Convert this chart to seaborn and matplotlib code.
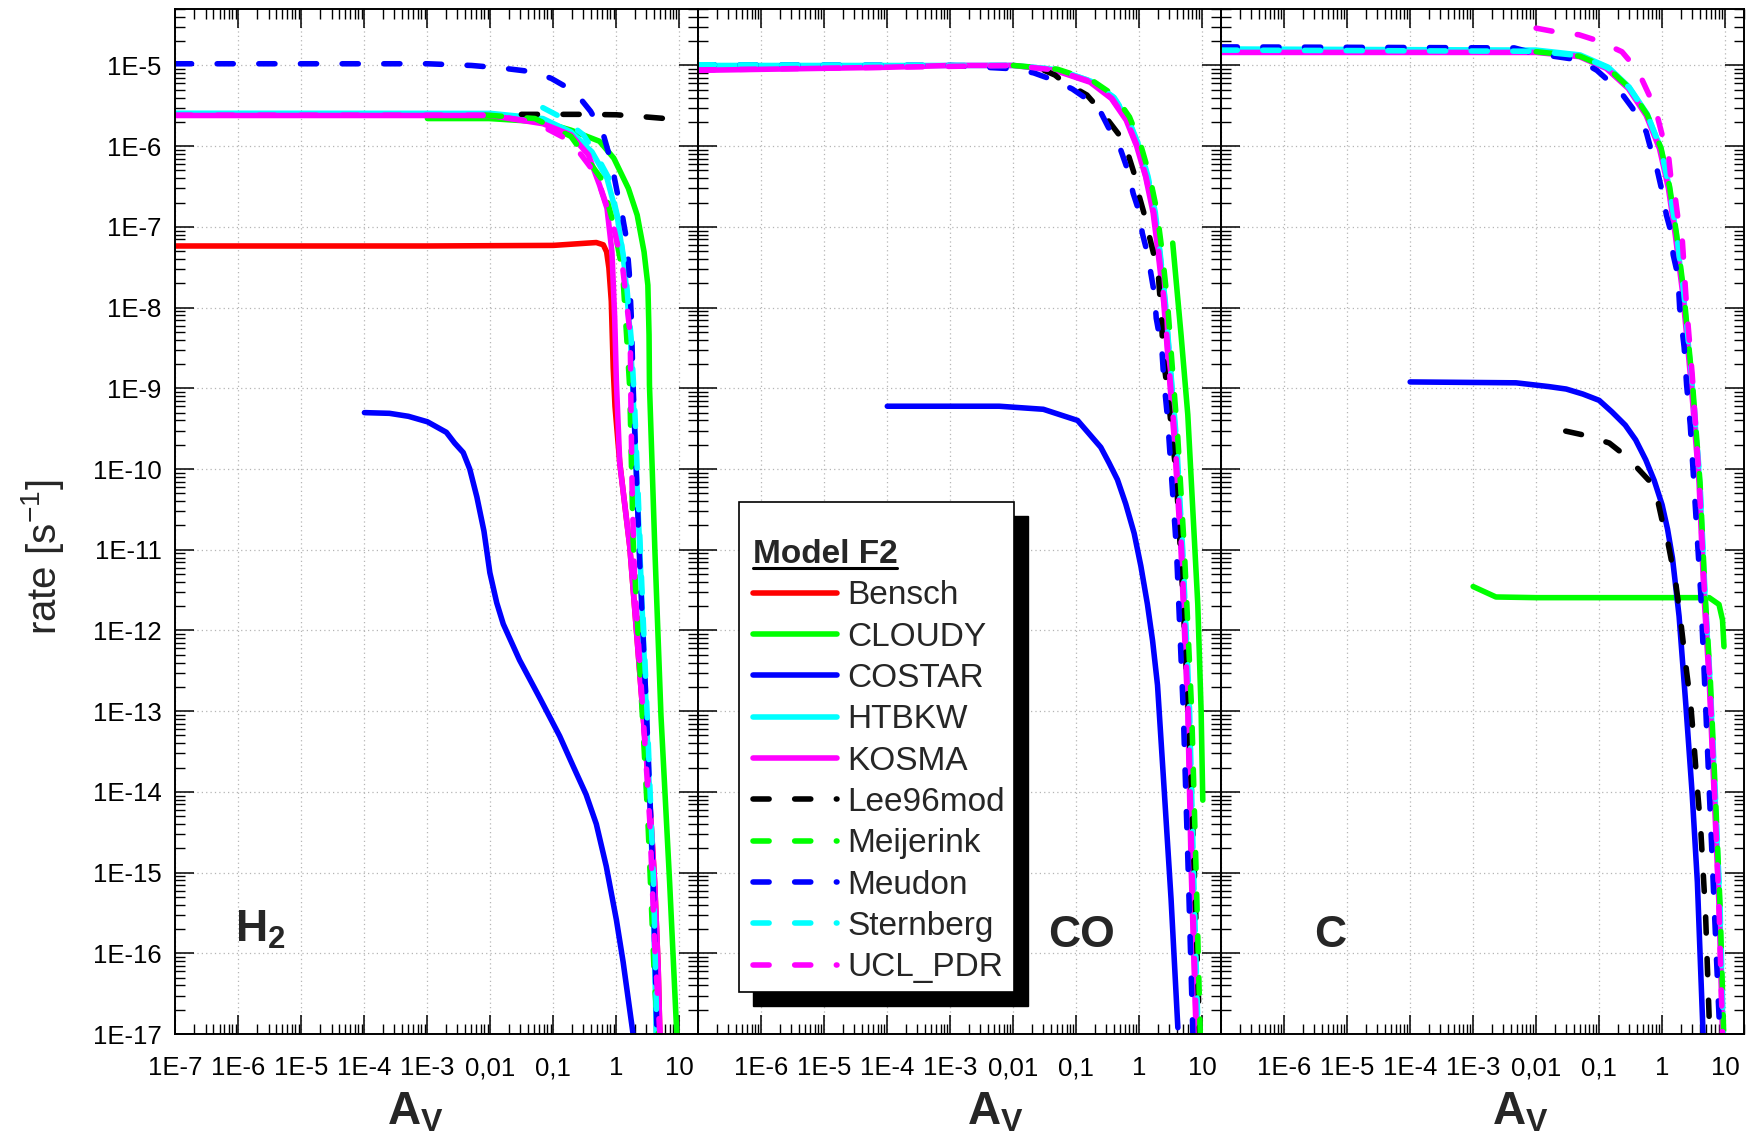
import matplotlib
matplotlib.use("Agg")
import numpy as np
import pandas as pd
import seaborn as sns
import matplotlib.pyplot as plt
from matplotlib.lines import Line2D
from matplotlib.patches import Rectangle

# ---- data: (A_V, rate [s^-1]) ----
# H2 panel
h2_bensch = [(1e-7, 5.8e-8), (1e-3, 5.8e-8), (0.1, 5.9e-8), (0.35, 6.3e-8), (0.48, 6.4e-8),
             (0.62, 6.0e-8), (0.7, 4.9e-8), (0.76, 3.1e-8), (0.83, 1.2e-8), (0.89, 1.8e-9),
             (0.95, 6e-10), (1.13, 1.2e-10), (1.63, 1.1e-11), (2.08, 1e-12), (2.65, 9e-14),
             (3.38, 8e-15), (4.05, 7.6e-16), (4.6, 6.9e-17), (4.9, 1e-17)]
h2_cloudy = [(1e-3, 2.2e-6), (0.0095, 2.2e-6), (0.068, 2.0e-6), (0.19, 1.58e-6), (0.54, 1.15e-6),
             (0.91, 7.1e-7), (1.55, 3.0e-7), (2.14, 1.4e-7), (2.75, 4.9e-8), (3.16, 1.9e-8),
             (3.3, 4.6e-9), (3.35, 1.1e-9), (4.07, 1.07e-11), (5.1, 8.9e-14), (7.0, 7.6e-16),
             (9.1, 1e-17)]
h2_costar = [(1e-4, 5.0e-10), (2.5e-4, 4.9e-10), (5e-4, 4.5e-10), (1e-3, 3.85e-10),
             (2e-3, 2.85e-10), (2.7e-3, 2.1e-10), (3.7e-3, 1.6e-10), (4.7e-3, 1e-10),
             (6.1e-3, 4.5e-11), (7.9e-3, 1.7e-11), (9.8e-3, 5.2e-12), (0.0126, 2.2e-12),
             (0.016, 1.2e-12), (0.029, 4.3e-13), (0.061, 1.45e-13), (0.126, 4.9e-14),
             (0.205, 2.1e-14), (0.33, 9.3e-15), (0.48, 4e-15), (0.69, 1.2e-15), (1.0, 2.6e-16),
             (1.28, 7.8e-17), (1.84, 1e-17)]
h2_htbkw = [(1e-7, 2.56e-6), (0.01, 2.55e-6), (0.068, 2.2e-6), (0.19, 1.5e-6), (0.41, 8.5e-7),
            (0.71, 4e-7), (1.04, 1.3e-7), (1.35, 3.1e-8), (1.66, 4.6e-9), (1.86, 6.9e-10),
            (2.34, 1.1e-11), (3.0, 8.9e-14), (3.8, 7.6e-16), (4.3, 1e-17)]
h2_kosma = [(1e-7, 2.4e-6), (0.01, 2.4e-6), (0.068, 1.9e-6), (0.19, 1.38e-6), (0.36, 7.8e-7),
            (0.54, 3.3e-7), (0.71, 1.7e-7), (0.85, 4.9e-8), (0.94, 7.4e-9), (1.0, 1.2e-9),
            (1.13, 1.2e-10), (1.63, 1.1e-11), (2.08, 1e-12), (2.65, 9e-14), (3.38, 8e-15),
            (4.05, 7.6e-16), (4.6, 6.9e-17), (4.9, 1e-17)]
h2_lee96mod = [(0.031, 2.48e-6), (0.3, 2.48e-6), (1.0, 2.45e-6), (3.0, 2.3e-6), (6.0, 2.2e-6)]
h2_meijerink = [(0.0083, 2.43e-6), (0.051, 2.2e-6), (0.19, 1.32e-6), (0.57, 4e-7), (0.91, 1.05e-7),
                (1.26, 2.7e-8), (1.45, 4.6e-9), (1.63, 1e-9), (1.84, 1.35e-11), (2.34, 3.8e-13),
                (3.16, 4.5e-15), (4.07, 3.8e-17), (4.6, 1e-17)]
h2_meudon = [(1e-7, 1.05e-5), (1e-3, 1.05e-5), (0.005, 1.0e-5), (0.015, 9.3e-6), (0.05, 8.3e-6),
             (0.093, 6.9e-6), (0.22, 4.7e-6), (0.39, 2.7e-6), (0.62, 1.4e-6), (0.76, 8e-7),
             (0.91, 4.4e-7), (1.05, 2.5e-7), (1.26, 1.3e-7), (1.45, 7e-8), (1.6, 2.7e-8),
             (1.72, 8e-9), (1.85, 1e-9), (2.3, 1e-11), (3.0, 1e-13), (3.8, 1e-15), (4.4, 1e-17)]
h2_sternberg = [(0.068, 3.0e-6), (0.13, 2.3e-6), (0.3, 1.38e-6), (0.48, 7.8e-7), (0.76, 4e-7),
                (1.05, 1.3e-7), (1.4, 2.8e-8), (1.72, 4e-9), (1.95, 6e-10), (2.4, 1e-11),
                (3.1, 8e-14), (3.9, 7e-16), (4.4, 1e-17)]
h2_ucl_pdr = [(1e-7, 2.42e-6), (0.01, 2.42e-6), (0.049, 2.0e-6), (0.19, 1.15e-6), (0.48, 4.4e-7),
              (0.89, 1.05e-7), (1.26, 3.1e-8), (1.66, 4.6e-9), (1.7, 7e-10), (1.78, 5e-11),
              (1.95, 4e-12), (2.65, 9e-14), (3.38, 4.5e-15), (4.05, 1.3e-16), (4.9, 1e-17)]

# CO panel
co_cloudy = [(3.4, 6.3e-8), (4.6, 4.7e-9), (5.9, 4.7e-10), (8.5, 2.1e-12), (9.6, 1e-13),
             (10.2, 7.9e-15)]
co_costar = [(1e-4, 6.0e-10), (1e-3, 6.0e-10), (6e-3, 6.0e-10), (0.03, 5.5e-10), (0.105, 4.0e-10),
             (0.15, 2.9e-10), (0.245, 1.86e-10), (0.33, 1.2e-10), (0.45, 7.4e-11), (0.61, 3.7e-11),
             (0.83, 1.6e-11), (1.06, 6.3e-12), (1.35, 2.1e-12), (1.63, 7.4e-13), (1.95, 2.1e-13),
             (2.5, 1e-14), (3.2, 4.7e-16), (4.1, 1.2e-17)]
co_htbkw = [(1e-7, 1.0e-5), (0.01, 1.0e-5), (0.048, 8.9e-6), (0.17, 6.4e-6), (0.38, 4.1e-6),
            (0.65, 2.2e-6), (0.96, 1.05e-6), (1.32, 4.4e-7), (1.74, 1.6e-7), (2.1, 5e-8),
            (2.57, 1.2e-8), (3.1, 1.8e-9), (3.8, 2.4e-10), (4.8, 1e-11), (6.1, 1e-13),
            (7.0, 1e-15), (8.4, 1e-17)]
co_kosma = [(1e-7, 8.7e-6), (1e-4, 9.5e-6), (1e-3, 1.0e-5), (0.01, 1.0e-5), (0.046, 8.7e-6),
            (0.166, 6.2e-6), (0.36, 3.9e-6), (0.62, 2.1e-6), (0.91, 1.0e-6), (1.26, 4.2e-7),
            (1.66, 1.5e-7), (2.0, 4.7e-8), (2.45, 1.15e-8), (2.95, 1.7e-9), (3.6, 2.3e-10),
            (4.6, 1e-11), (5.9, 1e-13), (6.7, 1e-15), (8.0, 1e-17)]
co_lee96mod = [(0.031, 8.7e-6), (0.046, 7.6e-6), (0.059, 6.5e-6), (0.148, 4.3e-6), (0.245, 2.75e-6),
               (0.48, 1.38e-6), (0.66, 8.1e-7), (0.86, 4.2e-7), (0.97, 2.6e-7), (1.27, 1.23e-7),
               (1.45, 7.6e-8), (2.0, 2.7e-8), (2.25, 7.4e-9), (2.4, 2.5e-9), (2.95, 6.6e-10),
               (3.85, 8.5e-11), (4.9, 3e-12), (6.2, 6e-14), (7.5, 1e-15), (9.1, 1e-17)]
co_meijerink = [(0.01, 1.0e-5), (0.05, 9e-6), (0.18, 6.5e-6), (0.41, 4.2e-6), (0.7, 2.3e-6),
                (1.05, 1.05e-6), (1.45, 4.4e-7), (1.9, 1.6e-7), (2.3, 5e-8), (2.8, 1.2e-8),
                (3.35, 1.8e-9), (4.1, 2.4e-10), (5.2, 1e-11), (6.8, 1e-13), (8.0, 1e-15),
                (9.3, 1e-17)]
co_meudon = [(1e-7, 1.02e-5), (1e-3, 1.0e-5), (0.01, 9.1e-6), (0.021, 8.1e-6), (0.046, 6.5e-6),
             (0.087, 5.1e-6), (0.22, 3.1e-6), (0.32, 1.74e-6), (0.51, 8.9e-7), (0.66, 5e-7),
             (0.8, 2.6e-7), (0.98, 1.6e-7), (1.12, 8.3e-8), (1.35, 4.7e-8), (1.55, 2.5e-8),
             (1.76, 1.4e-8), (1.86, 7.4e-9), (2.29, 3e-9), (2.45, 1.3e-9), (2.82, 4.2e-10),
             (3.9, 1e-11), (5.0, 1e-13), (6.0, 1e-15), (7.1, 1e-17)]
co_sternberg = [(1e-7, 1.02e-5), (0.01, 1.0e-5), (0.05, 8.9e-6), (0.18, 6.3e-6), (0.4, 4e-6),
                (0.68, 2.1e-6), (1.0, 1.0e-6), (1.38, 4.2e-7), (1.8, 1.5e-7), (2.15, 4.7e-8),
                (2.6, 1.15e-8), (3.15, 1.7e-9), (3.9, 2.3e-10), (4.9, 1e-11), (6.3, 1e-13),
                (7.3, 1e-15), (8.6, 1e-17)]
co_ucl_pdr = [(1e-7, 8.8e-6), (1e-4, 9.5e-6), (0.01, 1.0e-5), (0.046, 8.8e-6), (0.17, 6.3e-6),
              (0.37, 3.9e-6), (0.63, 2.1e-6), (0.93, 1.0e-6), (1.28, 4.2e-7), (1.7, 1.5e-7),
              (2.05, 4.7e-8), (2.5, 1.15e-8), (3.0, 1.7e-9), (3.7, 2.3e-10), (4.7, 1e-11),
              (6.0, 1e-13), (6.9, 1e-15), (8.1, 1e-17)]

# C panel
c_cloudy = [(1e-3, 3.5e-12), (2.3e-3, 2.6e-12), (0.01, 2.55e-12), (1.0, 2.55e-12), (5.6, 2.55e-12),
            (8.0, 2.1e-12), (9.1, 1.35e-12), (9.6, 6.3e-13)]
c_costar = [(1e-4, 1.2e-9), (4.8e-3, 1.17e-9), (0.016, 1.05e-9), (0.03, 9.8e-10), (0.055, 8.5e-10),
            (0.1, 7.1e-10), (0.16, 5.1e-10), (0.26, 3.5e-10), (0.38, 2.3e-10), (0.55, 1.3e-10),
            (0.75, 7.2e-11), (1.0, 3.6e-11), (1.22, 1.8e-11), (1.46, 7.9e-12), (1.86, 1.5e-12),
            (2.38, 1.2e-13), (3.0, 9.5e-15), (3.63, 7.6e-16), (4.1, 6e-17), (4.47, 1e-17)]
c_htbkw = [(1e-7, 1.6e-5), (0.01, 1.55e-5), (0.05, 1.35e-5), (0.14, 9.5e-6), (0.3, 5.4e-6),
           (0.58, 2.5e-6), (0.95, 9.5e-7), (1.3, 3.1e-7), (1.68, 8e-8), (2.15, 1.6e-8),
           (2.52, 4.6e-9), (3.0, 1.1e-9), (3.95, 6.8e-11), (4.75, 2.9e-12), (5.75, 2.3e-13),
           (6.9, 9.5e-15), (8.2, 4e-16), (9.3, 1e-17)]
c_kosma = [(1e-7, 1.45e-5), (0.01, 1.45e-5), (0.048, 1.29e-5), (0.13, 9.2e-6), (0.29, 5.2e-6),
           (0.56, 2.4e-6), (0.91, 9.3e-7), (1.26, 3.0e-7), (1.62, 7.9e-8), (2.1, 1.6e-8),
           (2.45, 4.6e-9), (2.9, 1.1e-9), (3.86, 6.8e-11), (4.6, 2.9e-12), (5.6, 2.3e-13),
           (6.7, 9.5e-15), (8.0, 4e-16), (9.1, 1e-17)]
c_lee96mod = [(0.0295, 2.95e-10), (0.062, 2.6e-10), (0.145, 2.1e-10), (0.28, 1.4e-10),
              (0.62, 7.2e-11), (0.85, 4.1e-11), (1.0, 2.3e-11), (1.22, 1.3e-11), (1.38, 7.9e-12),
              (1.66, 3.7e-12), (2.0, 1.2e-12), (2.37, 3.8e-13), (2.85, 1.2e-13), (3.2, 4e-14),
              (3.63, 1.1e-14), (4.1, 3.5e-15), (4.9, 3e-16), (5.7, 1e-17)]
c_meijerink = [(0.01, 1.48e-5), (0.05, 1.3e-5), (0.14, 9.2e-6), (0.3, 5.3e-6), (0.58, 2.45e-6),
               (0.96, 9.5e-7), (1.32, 3.1e-7), (1.7, 8e-8), (2.2, 1.6e-8), (2.55, 4.6e-9),
               (3.05, 1.1e-9), (4.0, 6.8e-11), (4.8, 2.9e-12), (5.85, 2.3e-13), (7.0, 9.5e-15),
               (8.3, 4e-16), (9.5, 1e-17)]
c_meudon = [(1e-7, 1.7e-5), (0.0045, 1.65e-5), (0.01, 1.4e-5), (0.048, 1.17e-5), (0.092, 8.7e-6),
            (0.21, 4.9e-6), (0.34, 2.95e-6), (0.56, 1.5e-6), (0.66, 9.3e-7), (0.85, 4.8e-7),
            (1.0, 2.75e-7), (1.17, 1.4e-7), (1.38, 8.7e-8), (1.5, 4.5e-8), (1.78, 2.5e-8),
            (1.9, 1e-8), (2.24, 3.2e-9), (2.45, 1.1e-9), (2.8, 3.5e-10), (4.1, 2.9e-12),
            (4.9, 1.2e-13), (6.7, 4e-16), (8.0, 1.7e-17), (8.3, 1e-17)]
c_sternberg = [(1e-7, 1.55e-5), (0.01, 1.5e-5), (0.05, 1.32e-5), (0.14, 9.3e-6), (0.3, 5.3e-6),
               (0.58, 2.45e-6), (0.95, 9.3e-7), (1.3, 3.05e-7), (1.7, 8e-8), (2.2, 1.6e-8),
               (2.55, 4.6e-9), (3.05, 1.1e-9), (4.0, 6.8e-11), (4.8, 2.9e-12), (5.8, 2.3e-13),
               (7.0, 9.5e-15), (8.3, 4e-16), (9.4, 1e-17)]
c_ucl_pdr = [(0.01, 2.9e-5), (0.021, 2.6e-5), (0.048, 2.4e-5), (0.1, 2.0e-5), (0.23, 1.48e-5),
             (0.41, 8.7e-6), (0.66, 3.9e-6), (0.78, 2.95e-6), (1.0, 1.38e-6), (1.26, 7.8e-7),
             (1.38, 4e-7), (1.62, 2.3e-7), (1.78, 1.3e-7), (2.1, 6.6e-8), (2.45, 1.0e-8),
             (3.0, 1.5e-9), (3.9, 7e-11), (4.7, 3e-12), (5.7, 2.5e-13), (6.8, 1e-14),
             (8.0, 4e-16), (9.1, 1e-17)]

models = ["Bensch", "CLOUDY", "COSTAR", "HTBKW", "KOSMA",
          "Lee96mod", "Meijerink", "Meudon", "Sternberg", "UCL_PDR"]
species = ["H2", "CO", "C"]
xtick_vals = [1e-7, 1e-6, 1e-5, 1e-4, 1e-3, 1e-2, 1e-1, 1, 10]
xtick_text = ["1E-7", "1E-6", "1E-5", "1E-4", "1E-3", "0,01", "0,1", "1", "10"]
ytick_vals = [10.0 ** k for k in range(-17, -4)]
ytick_text = ["1E%d" % k for k in range(-17, -4)]

curves = {
    "H2": {"Bensch": h2_bensch, "CLOUDY": h2_cloudy, "COSTAR": h2_costar, "HTBKW": h2_htbkw,
           "KOSMA": h2_kosma, "Lee96mod": h2_lee96mod, "Meijerink": h2_meijerink,
           "Meudon": h2_meudon, "Sternberg": h2_sternberg, "UCL_PDR": h2_ucl_pdr},
    "CO": {"CLOUDY": co_cloudy, "COSTAR": co_costar, "HTBKW": co_htbkw, "KOSMA": co_kosma,
           "Lee96mod": co_lee96mod, "Meijerink": co_meijerink, "Meudon": co_meudon,
           "Sternberg": co_sternberg, "UCL_PDR": co_ucl_pdr},
    "C": {"CLOUDY": c_cloudy, "COSTAR": c_costar, "HTBKW": c_htbkw, "KOSMA": c_kosma,
          "Lee96mod": c_lee96mod, "Meijerink": c_meijerink, "Meudon": c_meudon,
          "Sternberg": c_sternberg, "UCL_PDR": c_ucl_pdr},
}

rows = []
for sp in species:
    for model, pts in curves[sp].items():
        for av, rate in pts:
            rows.append((sp, model, av, rate))
df = pd.DataFrame(rows, columns=["species", "model", "Av", "rate"])

# ---- styling ----
colors = {"Bensch": "#ff0000", "CLOUDY": "#00ff00", "COSTAR": "#0000ff", "HTBKW": "#00ffff",
          "KOSMA": "#ff00ff", "Lee96mod": "#000000", "Meijerink": "#00ff00",
          "Meudon": "#0000ff", "Sternberg": "#00ffff", "UCL_PDR": "#ff00ff"}
dashed = {"Lee96mod", "Meijerink", "Meudon", "Sternberg", "UCL_PDR"}
LW = 4.0
DASH = (0, (2.9, 4.6))

sns.set_style("ticks")
plt.rcParams["font.family"] = ["Liberation Sans", "DejaVu Sans"]
plt.rcParams["mathtext.fontset"] = "custom"
plt.rcParams["mathtext.rm"] = "Liberation Sans"
plt.rcParams["mathtext.it"] = "Liberation Sans:italic"
plt.rcParams["mathtext.bf"] = "Liberation Sans:bold"

fig, axes = plt.subplots(1, 3, figsize=(17.53, 11.46), dpi=100, sharey=True)
fig.subplots_adjust(left=0.1001, right=0.9949, top=0.9921, bottom=0.0977, wspace=0)

for i, (ax, sp) in enumerate(zip(axes, species)):
    ax.set_xscale("log")
    ax.set_yscale("log")
    for model in models:
        sub = df[(df.species == sp) & (df.model == model)]
        if sub.empty:
            continue
        sns.lineplot(data=sub, x="Av", y="rate", ax=ax, color=colors[model], linewidth=LW,
                     linestyle=DASH if model in dashed else "-", sort=False, estimator=None,
                     dash_capstyle="round", solid_capstyle="round", solid_joinstyle="round",
                     legend=False)
    ax.set_xlim(1e-7, 20)
    ax.set_ylim(1e-17, 5e-5)
    ax.set_xlabel("")
    ax.set_ylabel("")

    labels = list(xtick_text) if i == 0 else [""] + xtick_text[1:]
    ax.set_xticks(xtick_vals, labels)
    ax.xaxis.set_minor_locator(matplotlib.ticker.LogLocator(base=10, subs=np.arange(2, 10), numticks=100))
    ax.xaxis.set_minor_formatter(matplotlib.ticker.NullFormatter())
    ax.set_yticks(ytick_vals, ytick_text)
    ax.yaxis.set_minor_locator(matplotlib.ticker.LogLocator(base=10, subs=np.arange(2, 10), numticks=100))
    ax.yaxis.set_minor_formatter(matplotlib.ticker.NullFormatter())
    ax.tick_params(which="both", direction="in", top=True, right=True, labelsize=18.5, colors="black")
    ax.tick_params(axis="x", which="major", pad=16)
    ax.tick_params(axis="y", which="major", pad=10, labelleft=(i == 0))
    ax.tick_params(which="major", length=13.5, width=1.1)
    ax.tick_params(which="minor", length=7.5, width=1.0)
    ax.grid(True, which="major", linestyle=(0, (1, 2.5)), color="#b5b5b5", linewidth=0.9)
    ax.set_axisbelow(True)
    for s in ax.spines.values():
        s.set_linewidth(1.4)
        s.set_color("black")

# axis titles
for ax, xpos in zip(axes, [0.458, 0.568, 0.573]):
    ax.text(xpos, -0.088, r"$\mathbf{A_V}$", transform=ax.transAxes, ha="center",
            va="baseline", fontsize=33)
fig.text(0.024, 0.514, r"rate [s$^{-1}$]", rotation=90, ha="center", va="center", fontsize=29)

# species labels
axes[0].text(0.114, 0.09, r"$\mathbf{H_2}$", transform=axes[0].transAxes, fontsize=32, va="baseline")
axes[1].text(0.669, 0.085, "CO", transform=axes[1].transAxes, fontsize=32, fontweight="bold", va="baseline")
axes[2].text(0.177, 0.085, "C", transform=axes[2].transAxes, fontsize=32, fontweight="bold", va="baseline")

# legend with drawn frame and offset black shadow
ax2 = axes[1]
ax2.add_patch(Rectangle((0.0772 + 0.0268, 0.041 - 0.0137), 0.5258, 0.478, transform=ax2.transAxes,
                        facecolor="black", edgecolor="black", zorder=4.8))
ax2.add_patch(Rectangle((0.0772, 0.041), 0.5258, 0.478, transform=ax2.transAxes,
                        facecolor="white", edgecolor="black", linewidth=1.2, zorder=4.9))
handles = [Line2D([], [], color=colors[m], linewidth=LW, linestyle=DASH if m in dashed else "-",
                  dash_capstyle="round", solid_capstyle="round") for m in models]
leg = ax2.legend(handles, models, loc="upper left", bbox_to_anchor=(0.104, 0.483), frameon=False,
                 fontsize=24, title="Model F2", title_fontproperties={"weight": "bold", "size": 24},
                 alignment="left", handlelength=2.53, handletextpad=0.3, labelspacing=0.31,
                 borderpad=0, borderaxespad=0)
leg.set_zorder(6)

fig.canvas.draw()
bb = leg.get_title().get_window_extent()
inv = ax2.transAxes.inverted()
(x0, y0), (x1, _) = inv.transform([(bb.x0, bb.y0 + 2), (bb.x1, bb.y0 + 2)])
ax2.add_line(Line2D([x0, x1], [y0, y0], transform=ax2.transAxes, color="black",
                    linewidth=2.2, zorder=7, clip_on=False))

fig.savefig("out.png", dpi=100)
